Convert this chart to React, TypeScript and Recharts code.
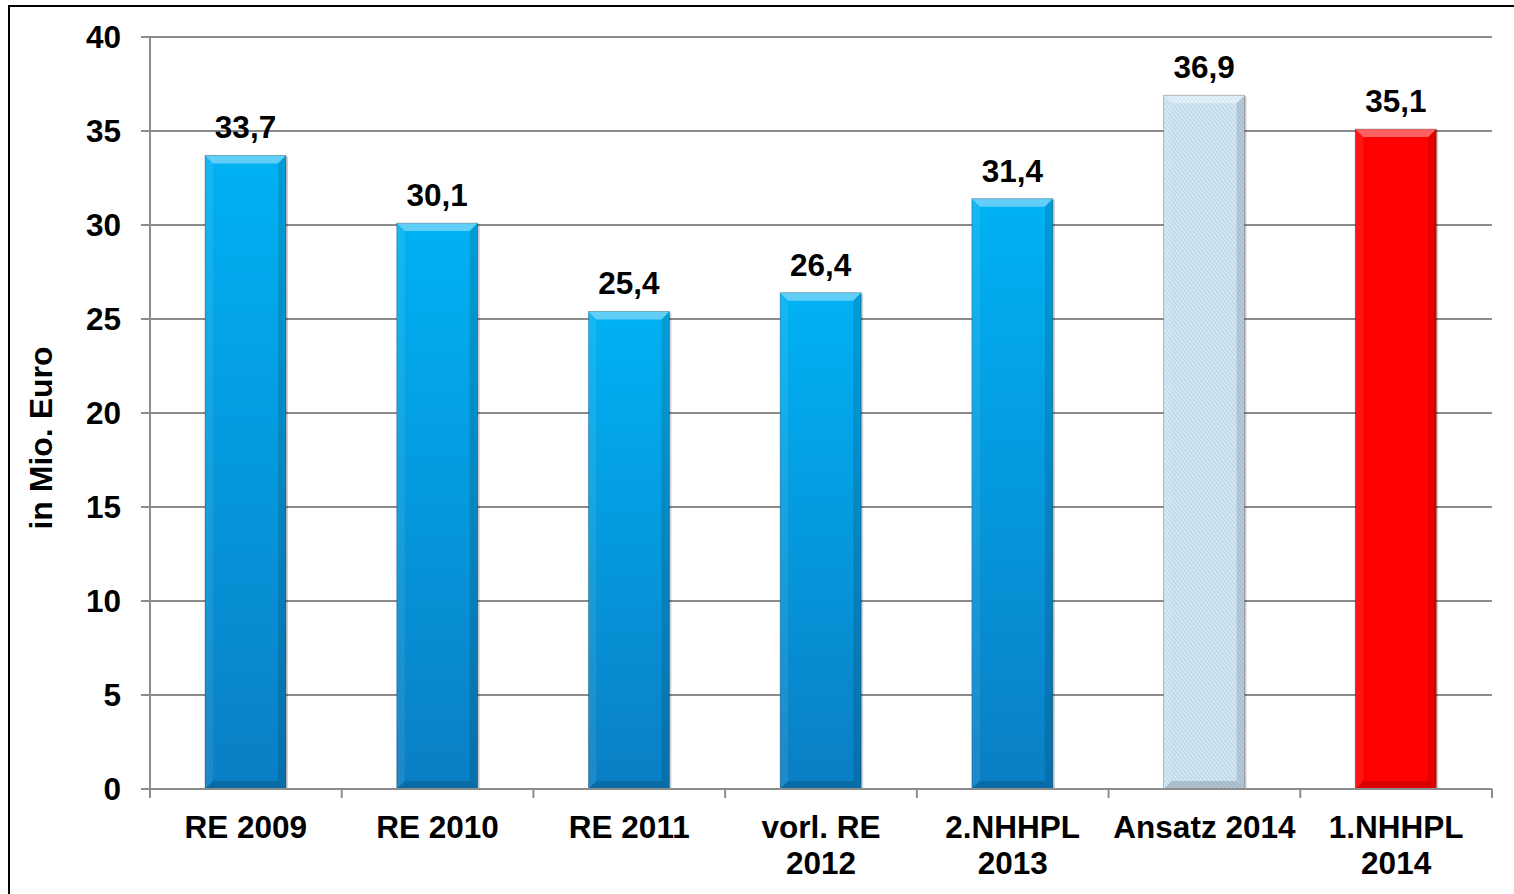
import React from "react";
import {
  BarChart,
  Bar,
  XAxis,
  YAxis,
  CartesianGrid,
  Cell,
  LabelList,
  Label,
} from "recharts";

const categories = [
  "RE 2009",
  "RE 2010",
  "RE 2011",
  "vorl. RE\n2012",
  "2.NHHPL\n2013",
  "Ansatz 2014",
  "1.NHHPL\n2014",
];
const values = [33.7, 30.1, 25.4, 26.4, 31.4, 36.9, 35.1];
const fills = [
  "url(#blueGrad)",
  "url(#blueGrad)",
  "url(#blueGrad)",
  "url(#blueGrad)",
  "url(#blueGrad)",
  "url(#hatch)",
  "#ff0000",
];
const yTicks = [0, 5, 10, 15, 20, 25, 30, 35, 40];

const data = categories.map((name, i) => ({ name, value: values[i] }));

const W = 1514;
const H = 894;
const margin = { top: 37, right: 22, left: 0, bottom: 0 };
const yAxisWidth = 150;
const font = "'Liberation Sans', Arial, sans-serif";
const gray = "#8c8c8c";
const fs = 31.5;

const band = (W - margin.left - margin.right - yAxisWidth) / categories.length;

function XTick(props: any) {
  const { x, y, payload, index } = props;
  const lines = String(payload.value).split("\n");
  const last = index === categories.length - 1;
  return (
    <g>
      <line x1={x - band / 2} x2={x - band / 2} y1={y} y2={y + 9} stroke={gray} strokeWidth={2} />
      {last && (
        <line x1={x + band / 2} x2={x + band / 2} y1={y} y2={y + 9} stroke={gray} strokeWidth={2} />
      )}
      <text
        x={x}
        y={y + 49}
        textAnchor="middle"
        fontFamily={font}
        fontWeight="bold"
        fontSize={fs}
        fill="#000"
      >
        {lines.map((l, i) => (
          <tspan key={i} x={x} dy={i === 0 ? 0 : 36}>
            {l}
          </tspan>
        ))}
      </text>
    </g>
  );
}

function BevelBar(props: any) {
  const { x, y, width, height, fill } = props;
  if (!height || height <= 0) return null;
  const b = 8;
  return (
    <g>
      <rect x={x + 2} y={y + 1} width={width} height={height - 1} fill="#000" opacity={0.18} />
      <rect x={x} y={y} width={width} height={height} fill={fill} />
      <polygon
        points={`${x},${y} ${x + width},${y} ${x + width - b},${y + b} ${x + b},${y + b}`}
        fill="#fff"
        opacity={0.38}
      />
      <polygon
        points={`${x},${y} ${x + b},${y + b} ${x + b},${y + height - b} ${x},${y + height}`}
        fill="#fff"
        opacity={0.08}
      />
      <polygon
        points={`${x + width},${y} ${x + width - b},${y + b} ${x + width - b},${y + height - b} ${x + width},${y + height}`}
        fill="#000"
        opacity={0.12}
      />
      <polygon
        points={`${x},${y + height} ${x + b},${y + height - b} ${x + width - b},${y + height - b} ${x + width},${y + height}`}
        fill="#000"
        opacity={0.15}
      />
      <rect x={x} y={y} width={width} height={height} fill="none" stroke="#000" strokeOpacity={0.25} strokeWidth={1} />
    </g>
  );
}

function YLabel(props: any) {
  const { viewBox } = props;
  const cx = 41;
  const cy = viewBox.y + viewBox.height / 2 + 25;
  return (
    <text
      x={cx}
      y={cy}
      transform={`rotate(-90, ${cx}, ${cy})`}
      textAnchor="middle"
      dominantBaseline="central"
      fontFamily={font}
      fontWeight="bold"
      fontSize={32}
      fill="#000"
    >
      in Mio. Euro
    </text>
  );
}

export default function App() {
  return (
    <div style={{ position: "absolute", left: 0, top: 0, width: W, height: H, background: "#fff" }}>
      <div
        style={{
          position: "absolute",
          left: 8,
          top: 5,
          width: W - 8,
          height: H - 5,
          borderLeft: "2.5px solid #000",
          borderTop: "2.5px solid #000",
          boxSizing: "border-box",
        }}
      />
      <div style={{ position: "absolute", left: 0, top: 0 }}>
        <BarChart width={W} height={H} data={data} margin={margin}>
          <defs>
            <linearGradient id="blueGrad" x1="0" y1="0" x2="0" y2="1">
              <stop offset="0%" stopColor="#00b2f4" />
              <stop offset="100%" stopColor="#0a7ec4" />
            </linearGradient>
            <pattern
              id="hatch"
              width="3"
              height="3"
              patternUnits="userSpaceOnUse"
              patternTransform="rotate(-40)"
            >
              <rect width="3" height="3" fill="#d3e8f6" />
              <line x1="0" y1="0" x2="0" y2="3" stroke="#9cc0d8" strokeWidth={1.1} />
            </pattern>
          </defs>
          <CartesianGrid vertical={false} stroke={gray} strokeWidth={2} />
          <XAxis
            dataKey="name"
            interval={0}
            height={105}
            axisLine={{ stroke: gray, strokeWidth: 2 }}
            tickLine={false}
            tickSize={0}
            tickMargin={0}
            tick={<XTick />}
          />
          <YAxis
            width={yAxisWidth}
            domain={[0, 40]}
            ticks={yTicks}
            interval={0}
            axisLine={{ stroke: gray, strokeWidth: 2 }}
            tickLine={{ stroke: gray, strokeWidth: 2 }}
            tickSize={9}
            tickMargin={20}
            tick={{ fontFamily: font, fontWeight: "bold", fontSize: fs, fill: "#000" }}
          >
            <Label content={<YLabel />} />
          </YAxis>
          <Bar dataKey="value" barSize={81} isAnimationActive={false} shape={<BevelBar />}>
            {data.map((d, i) => (
              <Cell key={d.name} fill={fills[i]} />
            ))}
            <LabelList
              dataKey="value"
              position="top"
              offset={17}
              formatter={(v: any) => Number(v).toFixed(1).replace(".", ",")}
              style={{ fontFamily: font, fontWeight: "bold", fontSize: fs, fill: "#000" }}
            />
          </Bar>
        </BarChart>
      </div>
    </div>
  );
}
